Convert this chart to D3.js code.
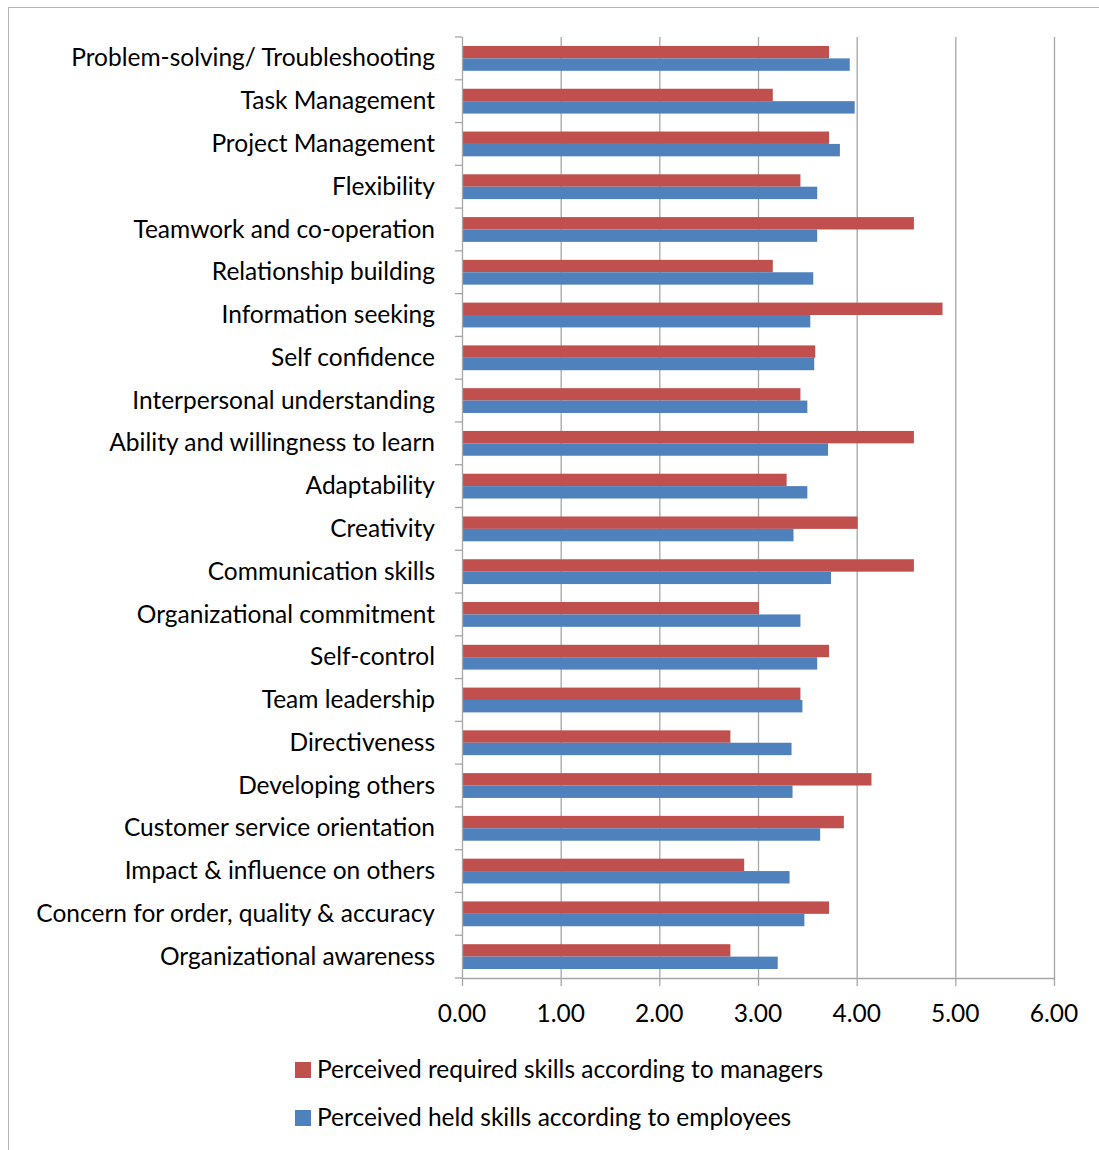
<!DOCTYPE html>
<html>
<head>
<meta charset="utf-8">
<script src="https://cdn.jsdelivr.net/npm/d3@7"></script>
<style>
  body { margin: 0; background: #fff; }
  svg text { font-family: Lato, "Open Sans", sans-serif; fill: #000; }
</style>
</head>
<body>
<svg id="chart" width="1099" height="1150"></svg>
<script>
// skill names, top to bottom
const skills = [
  'Problem-solving/ Troubleshooting', 'Task Management', 'Project Management',
  'Flexibility', 'Teamwork and co-operation', 'Relationship building',
  'Information seeking', 'Self confidence', 'Interpersonal understanding',
  'Ability and willingness to learn', 'Adaptability', 'Creativity',
  'Communication skills', 'Organizational commitment', 'Self-control',
  'Team leadership', 'Directiveness', 'Developing others',
  'Customer service orientation', 'Impact & influence on others',
  'Concern for order, quality & accuracy', 'Organizational awareness'
];

const managers = [3.72, 3.15, 3.72, 3.43, 4.58, 3.15, 4.87, 3.58, 3.43, 4.58, 3.29,
                  4.01, 4.58, 3.01, 3.72, 3.43, 2.72, 4.15, 3.87, 2.86, 3.72, 2.72];
const employees = [3.93, 3.98, 3.83, 3.60, 3.60, 3.56, 3.53, 3.57, 3.50, 3.71, 3.50,
                   3.36, 3.74, 3.43, 3.60, 3.45, 3.34, 3.35, 3.63, 3.32, 3.47, 3.20];

const seriesNames = ['Perceived required skills according to managers',
                     'Perceived held skills according to employees'];
const seriesColors = ['#C0504D', '#4F81BD'];
const xTicks = [0, 1, 2, 3, 4, 5, 6];

const svg = d3.select('#chart');
const gridColor = '#a6a6a6';
const fontSize = 24.5;

// outer frame
svg.append('rect')
  .attr('x', 8.5).attr('y', 7.5)
  .attr('width', 1200).attr('height', 1200)
  .attr('fill', 'none').attr('stroke', '#b3b3b3').attr('stroke-width', 1);

const plot = { left: 462, right: 1054, top: 37, bottom: 978 };

const x = d3.scaleLinear().domain([0, 6]).range([plot.left, plot.right]);
const y = d3.scaleBand().domain(skills).range([plot.top, plot.bottom]).paddingInner(0.42).paddingOuter(0.21);
const ySub = d3.scaleBand().domain([0, 1]).range([0, y.bandwidth()]);

// gridlines
svg.append('g').selectAll('line')
  .data(xTicks.slice(1))
  .join('line')
  .attr('x1', d => x(d) + 0.5).attr('x2', d => x(d) + 0.5)
  .attr('y1', plot.top).attr('y2', plot.bottom)
  .attr('stroke', gridColor).attr('stroke-width', 1.3);

// bars
const rows = skills.map((s, i) => ({ skill: s, vals: [managers[i], employees[i]] }));
svg.append('g').selectAll('g')
  .data(rows)
  .join('g')
  .attr('transform', d => `translate(0,${y(d.skill)})`)
  .selectAll('rect')
  .data(d => d.vals.map((v, k) => ({ v, k })))
  .join('rect')
  .attr('x', x(0))
  .attr('y', d => ySub(d.k))
  .attr('width', d => x(d.v) - x(0))
  .attr('height', ySub.bandwidth())
  .attr('fill', d => seriesColors[d.k]);

// y axis
const yAxis = svg.append('g').attr('transform', `translate(${plot.left},0)`);
yAxis.append('line')
  .attr('x1', 0.5).attr('x2', 0.5).attr('y1', plot.top).attr('y2', plot.bottom)
  .attr('stroke', gridColor).attr('stroke-width', 1.3);
const step = (plot.bottom - plot.top) / skills.length;
yAxis.selectAll('line.tick')
  .data(d3.range(skills.length + 1))
  .join('line').attr('class', 'tick')
  .attr('x1', -7).attr('x2', 0)
  .attr('y1', i => plot.top + i * step).attr('y2', i => plot.top + i * step)
  .attr('stroke', gridColor).attr('stroke-width', 1.3);
yAxis.selectAll('text')
  .data(skills)
  .join('text')
  .attr('x', -27)
  .attr('y', d => y(d) + y.bandwidth() / 2)
  .attr('dy', '0.33em')
  .attr('text-anchor', 'end')
  .attr('font-size', fontSize)
  .text(d => d);

// x axis
const xAxis = svg.append('g').attr('transform', `translate(0,${plot.bottom})`);
xAxis.append('line')
  .attr('x1', plot.left).attr('x2', plot.right + 1).attr('y1', 0.5).attr('y2', 0.5)
  .attr('stroke', gridColor).attr('stroke-width', 1.3);
xAxis.selectAll('line.tick')
  .data(xTicks)
  .join('line').attr('class', 'tick')
  .attr('x1', d => x(d) + 0.5).attr('x2', d => x(d) + 0.5)
  .attr('y1', 0).attr('y2', 8)
  .attr('stroke', gridColor).attr('stroke-width', 1.3);
xAxis.selectAll('text')
  .data(xTicks)
  .join('text')
  .attr('x', d => x(d))
  .attr('y', 44)
  .attr('text-anchor', 'middle')
  .attr('font-size', fontSize)
  .text(d => d3.format('.2f')(d));

// legend
const legend = svg.append('g').attr('transform', 'translate(295,1062)');
const item = legend.selectAll('g')
  .data(seriesNames)
  .join('g')
  .attr('transform', (d, i) => `translate(0,${i * 48})`);
item.append('rect')
  .attr('width', 16).attr('height', 16)
  .attr('fill', (d, i) => seriesColors[i]);
item.append('text')
  .attr('x', 22).attr('y', 8)
  .attr('dy', '0.33em')
  .attr('font-size', fontSize)
  .text(d => d);
</script>
</body>
</html>
